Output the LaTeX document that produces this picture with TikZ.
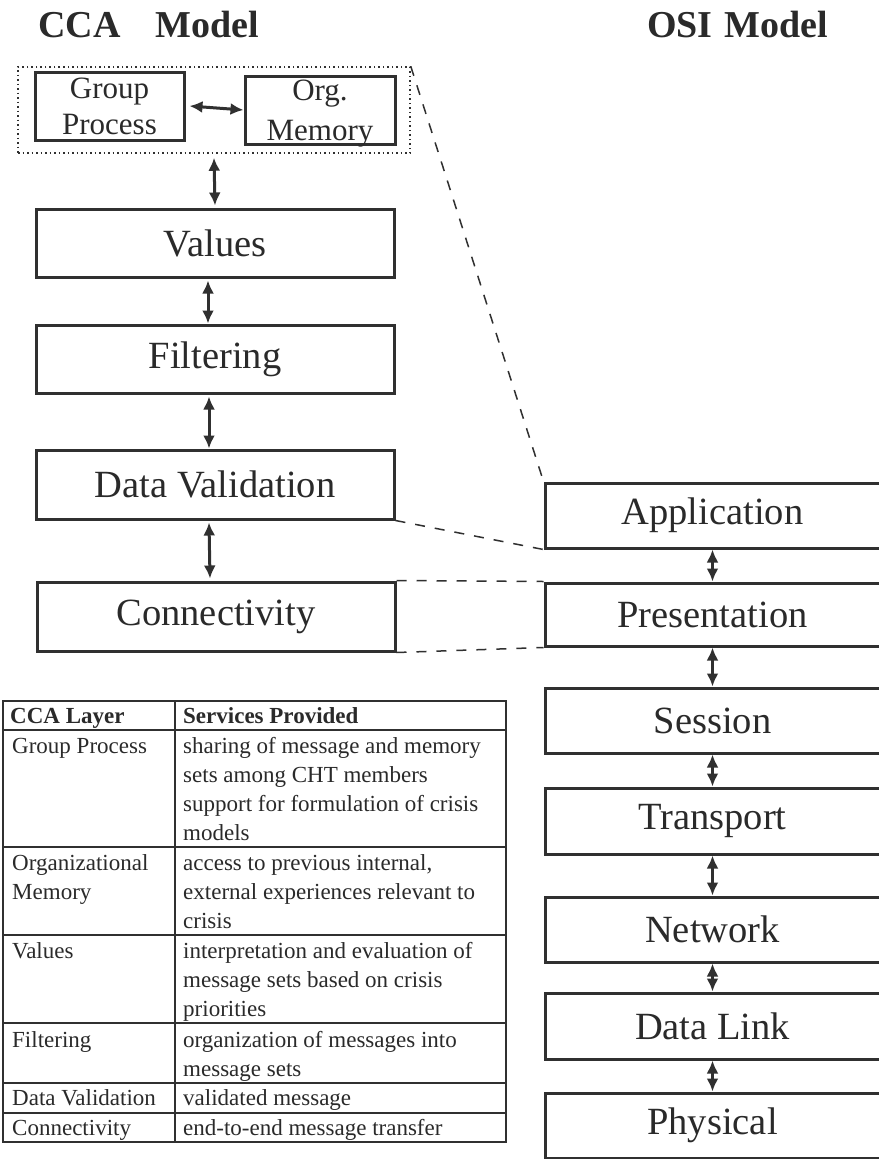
\documentclass[tikz,border=0pt]{standalone}
\usepackage{fontspec}
\setmainfont{Liberation Serif}
\usetikzlibrary{arrows.meta}
\definecolor{ink}{HTML}{2A2A2A}
\definecolor{linec}{HTML}{303030}
\begin{document}
\begin{tikzpicture}[x=1pt,y=-1pt,
  layerbox/.style={draw=linec,line width=3pt,inner sep=0pt,text=ink,
     font=\fontsize{38.5}{44}\selectfont},
  smallbox/.style={draw=linec,line width=3pt,inner sep=0pt,text=ink,align=center,
     font=\fontsize{31}{36}\selectfont},
  dbl/.style={draw=linec,line width=3pt,{Latex[length=13pt,width=12pt]}-{Latex[length=13pt,width=12pt]}},
  linkdash/.style={draw=linec,line width=1.5pt,dash pattern=on 10pt off 10pt},
  tcell/.style={anchor=base west,inner sep=0pt,text=ink,font=\fontsize{23}{29}\selectfont},
  thead/.style={tcell,font=\fontsize{23}{29}\selectfont\bfseries},
  titletext/.style={anchor=base west,inner sep=0pt,text=ink,font=\fontsize{38}{44}\selectfont\bfseries}
]
\fill[white] (0,0) rectangle (878,1159);
\useasboundingbox (0,0) rectangle (878,1159);

% titles
\node[titletext] (tcca) at (38,37) {CCA\hspace{35pt}Model};
\node[titletext] (tosi) at (647,37) {OSI\hspace{12pt}Model};

% CCA model
\node[draw=linec,line width=1.5pt,dash pattern=on 1.5pt off 3pt,minimum width=392pt,minimum height=86pt,inner sep=0pt] (grp) at (214,110) {};
\node[smallbox,minimum width=149pt,minimum height=68pt] (gp) at (109.5,106) {Group\\Process};
\node[smallbox,minimum width=150pt,minimum height=68pt] (om) at (320,110)
  {\raisebox{-30pt}[0pt][0pt]{\begin{tabular}[b]{@{}c@{}}Org.\\[4pt]Memory\end{tabular}}};
\node[layerbox,minimum width=358pt,minimum height=68pt] (val) at (215,243) {Values};
\node[layerbox,minimum width=358pt,minimum height=68pt] (fil) at (215,359) {Filtering};
\node[layerbox,minimum width=358pt,minimum height=69pt] (dv) at (215,484.5) {Data Validation};
\node[layerbox,minimum width=358pt,minimum height=69pt] (con) at (216,616.5) {Connectivity};

\draw[dbl] ([xshift=4pt]gp.east) -- (om.west);
\draw[dbl] ([yshift=-4pt]grp.south) -- ([yshift=2pt]val.north);
\draw[dbl] ([xshift=-7pt,yshift=-2pt]val.south) -- ([xshift=-7pt]fil.north);
\draw[dbl] ([xshift=-6pt,yshift=-2pt]fil.south) -- ([xshift=-6pt]dv.north);
\draw[dbl] ([xshift=-6pt,yshift=-2pt]dv.south) -- ([xshift=-6pt,yshift=2pt]con.north);

% OSI model
\node[layerbox,minimum width=335pt,minimum height=65pt] (app) at (712.5,515.5) {Application};
\node[layerbox,minimum width=335pt,minimum height=63pt] (pre) at (712.5,614.5) {Presentation};
\node[layerbox,minimum width=335pt,minimum height=65pt] (ses) at (712.5,720.5) {Session};
\node[layerbox,minimum width=335pt,minimum height=66pt] (tra) at (712.5,821) {Transport};
\node[layerbox,minimum width=335pt,minimum height=65pt] (net) at (712.5,929.5) {Network};
\node[layerbox,minimum width=335pt,minimum height=66pt] (dl) at (712.5,1026) {Data Link};
\node[layerbox,minimum width=335pt,minimum height=65pt] (phy) at (712.5,1125.5) {Physical};

\draw[dbl] (app.south) -- (pre.north);
\draw[dbl] (pre.south) -- (ses.north);
\draw[dbl] (ses.south) -- (tra.north);
\draw[dbl] (tra.south) -- (net.north);
\draw[dbl] (net.south) -- (dl.north);
\draw[dbl] (dl.south) -- (phy.north);

% mapping lines
\draw[linkdash] (grp.north east) -- (app.north west);
\draw[linkdash] (dv.south east) -- (app.south west);
\draw[linkdash] (con.north east) -- (pre.north west);
\draw[linkdash] (con.south east) -- (pre.south west);

% table
\draw[linec,line width=1.5pt] (3,701) rectangle (506,1142);
\draw[linec,line width=1.5pt] (175,701) -- (175,1142);
\foreach \yy in {730,847,935,1023,1083,1113} \draw[linec,line width=1.5pt] (3,\yy) -- (506,\yy);

\node[thead] (h1) at (10,723) {CCA Layer};
\node[thead] (h2) at (183,723) {Services Provided};

\node[tcell] (c1) at (12,753) {Group Process};
\node[tcell] (s1a) at (183,753) {sharing of message and memory};
\node[tcell] (s1b) at (183,782) {sets among CHT members};
\node[tcell] (s1c) at (183,811) {support for formulation of crisis};
\node[tcell] (s1d) at (183,840) {models};

\node[tcell] (c2a) at (12,870) {Organizational};
\node[tcell] (c2b) at (12,899) {Memory};
\node[tcell] (s2a) at (183,870) {access to previous internal,};
\node[tcell] (s2b) at (183,899) {external experiences relevant to};
\node[tcell] (s2c) at (183,928) {crisis};

\node[tcell] (c3) at (12,958) {Values};
\node[tcell] (s3a) at (183,958) {interpretation and evaluation of};
\node[tcell] (s3b) at (183,987) {message sets based on crisis};
\node[tcell] (s3c) at (183,1016) {priorities};

\node[tcell] (c4) at (12,1047) {Filtering};
\node[tcell] (s4a) at (183,1047) {organization of messages into};
\node[tcell] (s4b) at (183,1076) {message sets};

\node[tcell] (c5) at (12,1105) {Data Validation};
\node[tcell] (s5) at (183,1105) {validated message};

\node[tcell] (c6) at (12,1135) {Connectivity};
\node[tcell] (s6) at (183,1135) {end-to-end message transfer};
\end{tikzpicture}
\end{document}
